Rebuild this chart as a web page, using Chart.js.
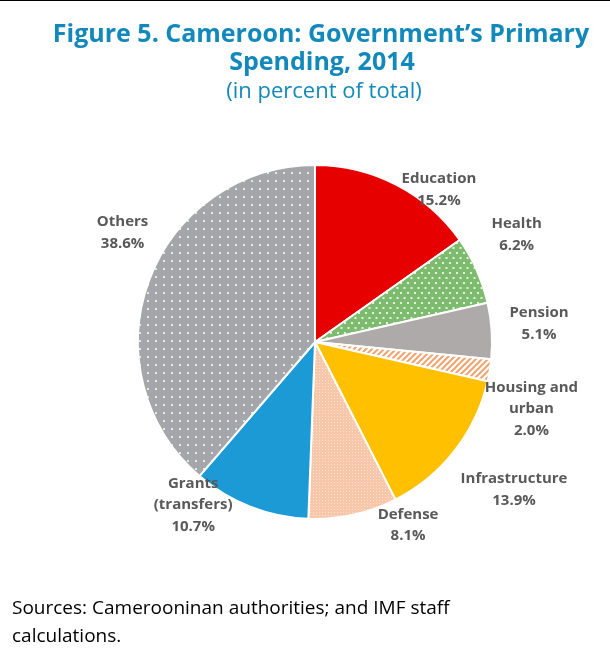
<!doctype html>
<html lang="en">
<head>
<meta charset="utf-8">
<title>Cameroon primary spending 2014</title>
<script src="https://cdn.jsdelivr.net/npm/chart.js@4.4.1/dist/chart.umd.min.js"></script>
<style>
  html, body { margin: 0; padding: 0; background: #fff; }
  #wrap { position: relative; width: 610px; height: 666px; border-top: 1px solid #000; box-sizing: border-box; }
  canvas { display: block; }
</style>
</head>
<body>
<div id="wrap">
  <canvas id="pie" width="610" height="665"></canvas>
</div>
<script>
  // spending shares, clockwise from 12 o'clock
  const sectors = ['Education', 'Health', 'Pension', 'Housing and urban', 'Infrastructure', 'Defense', 'Grants (transfers)', 'Others'];
  const shares = [15.2, 6.2, 5.1, 2.0, 13.9, 8.1, 10.7, 38.6];
  // how each label is broken into lines
  const labelLines = [
    ['Education'], ['Health'], ['Pension'], ['Housing and', 'urban'],
    ['Infrastructure'], ['Defense'], ['Grants', '(transfers)'], ['Others']
  ];
  // label placement: angle shift from the slice middle (deg), distance as share of radius
  const labelShift = [11.7, -4, -1, 8, -1.3, -14.5, 15.3, 9.2];
  const labelDist = [1.11, 1.29, 1.27, 1.28, 1.40, 1.16, 1.15, 1.25];

  function tile(w, h, draw) {
    const c = document.createElement('canvas');
    c.width = w; c.height = h;
    const g = c.getContext('2d');
    draw(g);
    return document.createElement('canvas').getContext('2d').createPattern(c, 'repeat');
  }

  const dotsGreen = tile(7, 10, g => {
    g.fillStyle = '#7dbb6e'; g.fillRect(0, 0, 7, 10);
    g.fillStyle = '#e4f1df';
    g.fillRect(1, 1, 2, 2); g.fillRect(4.5, 6, 2, 2);
  });
  const dotsGrey = tile(8, 8, g => {
    g.fillStyle = '#a5a6a9'; g.fillRect(0, 0, 8, 8);
    g.fillStyle = '#e8e8ea';
    g.fillRect(3, 3, 2, 2);
  });
  const stripes = tile(6, 6, g => {
    g.fillStyle = '#ffffff'; g.fillRect(0, 0, 6, 6);
    g.strokeStyle = '#f2a36e'; g.lineWidth = 2;
    g.beginPath();
    g.moveTo(-1, 7); g.lineTo(7, -1);
    g.moveTo(-1, 1); g.lineTo(1, -1);
    g.moveTo(5, 7); g.lineTo(7, 5);
    g.stroke();
  });
  const checks = tile(3, 3, g => {
    g.fillStyle = '#f8c7aa'; g.fillRect(0, 0, 3, 3);
    g.fillStyle = '#fde3d3';
    g.fillRect(1, 1, 1, 1);
  });

  const fills = ['#e60000', dotsGreen, '#aeaaaa', stripes, '#ffc000', checks, '#1b9ad6', dotsGrey];

  const textPlugin = {
    id: 'texts',
    afterDatasetsDraw(chart) {
      const ctx = chart.ctx;
      const arcs = chart.getDatasetMeta(0).data;
      ctx.save();
      ctx.fillStyle = '#595959';
      ctx.font = 'bold 15px "Open Sans", sans-serif';
      ctx.textAlign = 'center';
      ctx.textBaseline = 'middle';
      arcs.forEach((arc, i) => {
        const p = arc.getProps(['x', 'y', 'startAngle', 'endAngle', 'outerRadius'], true);
        const a = (p.startAngle + p.endAngle) / 2 + labelShift[i] * Math.PI / 180;
        const r = p.outerRadius * labelDist[i];
        const cx = p.x + Math.cos(a) * r;
        const cy = p.y + Math.sin(a) * r;
        const lines = labelLines[i].concat([shares[i].toFixed(1) + '%']);
        const lh = 21.5;
        lines.forEach((t, k) => {
          ctx.fillText(t, cx, cy + (k - (lines.length - 1) / 2) * lh);
        });
      });
      ctx.restore();
    },
    afterDraw(chart) {
      const ctx = chart.ctx;
      ctx.save();
      ctx.textAlign = 'center';
      ctx.textBaseline = 'alphabetic';
      ctx.fillStyle = '#1289ba';
      ctx.font = 'bold 25px "Open Sans", sans-serif';
      ctx.fillText('Figure 5. Cameroon: Government\u2019s Primary', 321, 41);
      ctx.fillText('Spending, 2014', 322, 69);
      ctx.font = '22px "Open Sans", sans-serif';
      ctx.fillText('(in percent of total)', 324, 97);
      ctx.textAlign = 'left';
      ctx.fillStyle = '#000';
      ctx.font = '19px "Open Sans", sans-serif';
      ctx.fillText('Sources: Camerooninan authorities; and IMF staff', 12, 613);
      ctx.fillText('calculations.', 12, 641);
      ctx.restore();
    }
  };

  new Chart(document.getElementById('pie'), {
    type: 'pie',
    data: {
      labels: sectors,
      datasets: [{
        data: shares,
        backgroundColor: fills,
        borderColor: '#ffffff',
        borderWidth: 2
      }]
    },
    options: {
      responsive: false,
      animation: false,
      layout: { padding: { left: 137, right: 117, top: 163, bottom: 146 } },
      plugins: {
        legend: { display: false },
        title: { display: false },
        tooltip: { enabled: false }
      }
    },
    plugins: [textPlugin]
  });
</script>
</body>
</html>
